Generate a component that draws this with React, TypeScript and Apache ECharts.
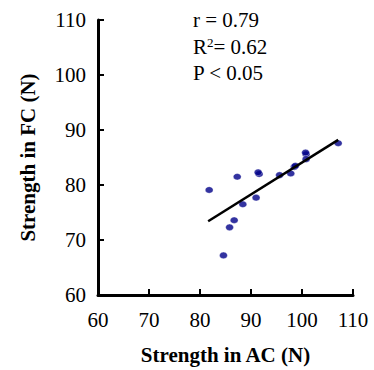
import React, { useEffect, useRef } from "react";
import * as echarts from "echarts";

const acStrength = [81.8, 87.3, 91.6, 91.4, 95.6, 97.8, 98.5, 98.7, 100.8, 100.7, 100.8, 91.0, 88.4, 86.7, 85.8, 84.6, 107.1];
const fcStrength = [79.1, 81.5, 82.0, 82.3, 81.8, 82.1, 83.3, 83.5, 85.6, 85.9, 84.7, 77.7, 76.5, 73.6, 72.3, 67.2, 87.6];
const fitLineX = [81.6, 107.1];
const fitLineY = [73.4, 88.2];
const statLines = ["r = 0.79", "R{sup|2}= 0.62", "P < 0.05"];
const xName = "Strength in AC (N)";
const yName = "Strength in FC (N)";

const FONT = "'Liberation Serif', 'Times New Roman', serif";

export default function App() {
  const ref = useRef<HTMLDivElement>(null);
  useEffect(() => {
    if (!ref.current) return;
    const chart = echarts.init(ref.current, undefined, { renderer: "svg" });
    const points = acStrength.map((x, i) => [x, fcStrength[i]]);
    const line = fitLineX.map((x, i) => [x, fitLineY[i]]);
    chart.setOption({
      animation: false,
      backgroundColor: "#ffffff",
      grid: { left: 98, right: 21, top: 20, bottom: 73, containLabel: false },
      xAxis: {
        type: "value",
        min: 60,
        max: 110,
        interval: 10,
        name: xName,
        nameLocation: "middle",
        nameGap: 49,
        nameTextStyle: { fontFamily: FONT, fontSize: 21, fontWeight: "bold", color: "#000" },
        axisLine: { show: true, lineStyle: { color: "#000", width: 3 } },
        axisTick: { show: true, inside: true, length: 6, lineStyle: { color: "#000", width: 2 } },
        axisLabel: { fontFamily: FONT, fontSize: 21, color: "#000", margin: 14 },
        splitLine: { show: false },
      },
      yAxis: {
        type: "value",
        min: 60,
        max: 110,
        interval: 10,
        name: yName,
        nameLocation: "middle",
        nameGap: 60,
        nameTextStyle: { fontFamily: FONT, fontSize: 21, fontWeight: "bold", color: "#000" },
        axisLine: { show: true, lineStyle: { color: "#000", width: 3 } },
        axisTick: { show: true, inside: true, length: 6, lineStyle: { color: "#000", width: 2 } },
        axisLabel: { fontFamily: FONT, fontSize: 21, color: "#000", margin: 12 },
        splitLine: { show: false },
      },
      series: [
        {
          type: "line",
          data: line,
          symbol: "none",
          lineStyle: { color: "#000", width: 2.5 },
          z: 3,
        },
        {
          type: "scatter",
          data: points,
          symbol: "circle",
          symbolSize: [8, 6.5],
          itemStyle: { color: "#000088", borderColor: "#ffffff", borderWidth: 0.4 },
          z: 2,
        },
      ],
      graphic: statLines.map((t, i) => ({
        type: "text",
        left: 193,
        top: 9 + i * 26.5,
        style: {
          text: t,
          fontFamily: FONT,
          fontSize: 21,
          fill: "#000",
          rich: {
            sup: { fontSize: 13, verticalAlign: "top", fontFamily: FONT, padding: [0, 0, 10, 0] },
          },
        },
      })),
    });
    return () => chart.dispose();
  }, []);
  return (
    <div
      ref={ref}
      style={{ position: "absolute", left: 0, top: 0, width: 374, height: 370 }}
    />
  );
}
